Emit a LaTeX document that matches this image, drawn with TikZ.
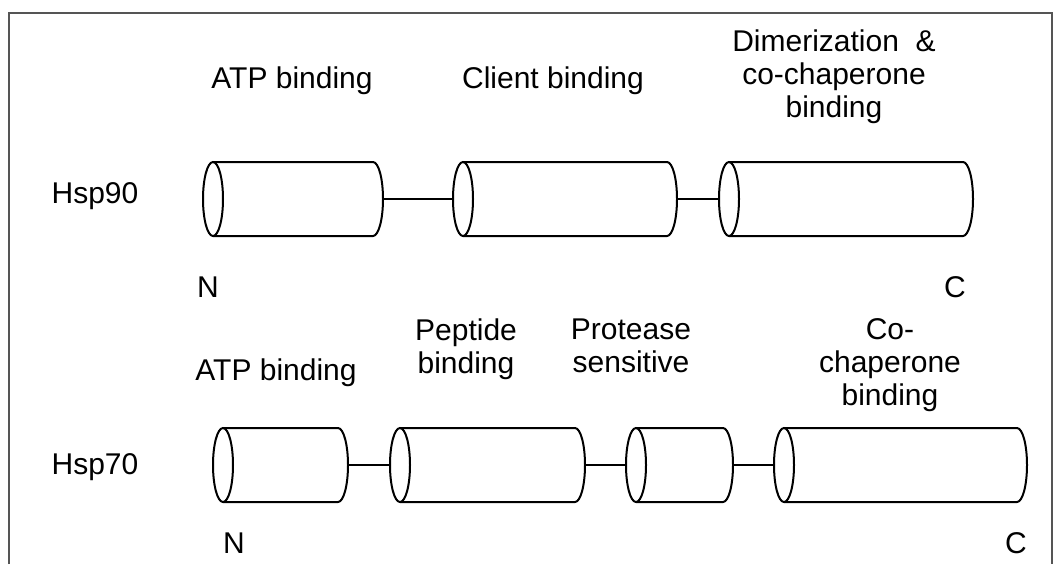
\documentclass[tikz,border=0pt]{standalone}
\usepackage{fontspec}
\setmainfont{Liberation Sans}
\definecolor{framegray}{RGB}{85,85,85}
\tikzset{
  cyl/.style={line width=1pt, black},
  link/.style={line width=1pt, black},
  dombox/.style={inner sep=0pt, outer sep=0pt, draw=none, minimum height=37pt},
  lbl/.style={inner sep=0pt, outer sep=0pt, font=\fontsize{15pt}{16.5pt}\selectfont, align=center},
}
\newcommand\hspdomain[4]{%
  \node[dombox, minimum width={(#3-#2+20)*0.5pt}] (#1) at ({(#2+#3)/2},#4) {};
  \draw[cyl] (#2,#4) ellipse [x radius=5pt, y radius=18.5pt];
  \draw[cyl] (#2,#4-37) -- (#3,#4-37) arc[start angle=90,end angle=-90,x radius=5pt,y radius=18.5pt] -- (#2,#4+37);
}
\begin{document}
\begin{tikzpicture}[x=0.5pt, y=-0.5pt]
\useasboundingbox (0,0) rectangle (1055,564);
\draw[framegray, line width=0.75pt] (9,564) -- (9,13) -- (1052,13) -- (1052,564);

% Hsp90
\hspdomain{a1}{213}{373}{199}
\hspdomain{a2}{463}{667}{199}
\hspdomain{a3}{729}{963}{199}
\draw[link] (a1.east) -- (a2.west);
\draw[link] (a2.east) -- (a3.west);

\node[lbl, anchor=base] (h90) at (95,203) {Hsp90};
\node[lbl, anchor=base] (n90) at (208,297) {N};
\node[lbl, anchor=base] (c90) at (955,297) {C};
\node[lbl, anchor=north] (l1) at (292,67) {ATP binding};
\node[lbl, anchor=north] (l2) at (553,67) {Client binding};
\node[lbl, anchor=north] (l3) at (834,30) {Dimerization~ \&\\co-chaperone\\binding};

% Hsp70
\hspdomain{b1}{223}{338}{465}
\hspdomain{b2}{400}{575}{465}
\hspdomain{b3}{636}{723}{465}
\hspdomain{b4}{784}{1017}{465}
\draw[link] (b1.east) -- (b2.west);
\draw[link] (b2.east) -- (b3.west);
\draw[link] (b3.east) -- (b4.west);

\node[lbl, anchor=base] (h70) at (95,474) {Hsp70};
\node[lbl, anchor=base] (n70) at (234,553) {N};
\node[lbl, anchor=base] (c70) at (1016,553) {C};
\node[lbl, anchor=base] (m1) at (276,380) {ATP binding};
\node[lbl, anchor=north] (m2) at (466,319) {Peptide\\binding};
\node[lbl, anchor=north] (m3) at (631,319) {Protease\\sensitive};
\node[lbl, anchor=north] (m4) at (890,319) {Co-\\chaperone\\binding};
\end{tikzpicture}
\end{document}
